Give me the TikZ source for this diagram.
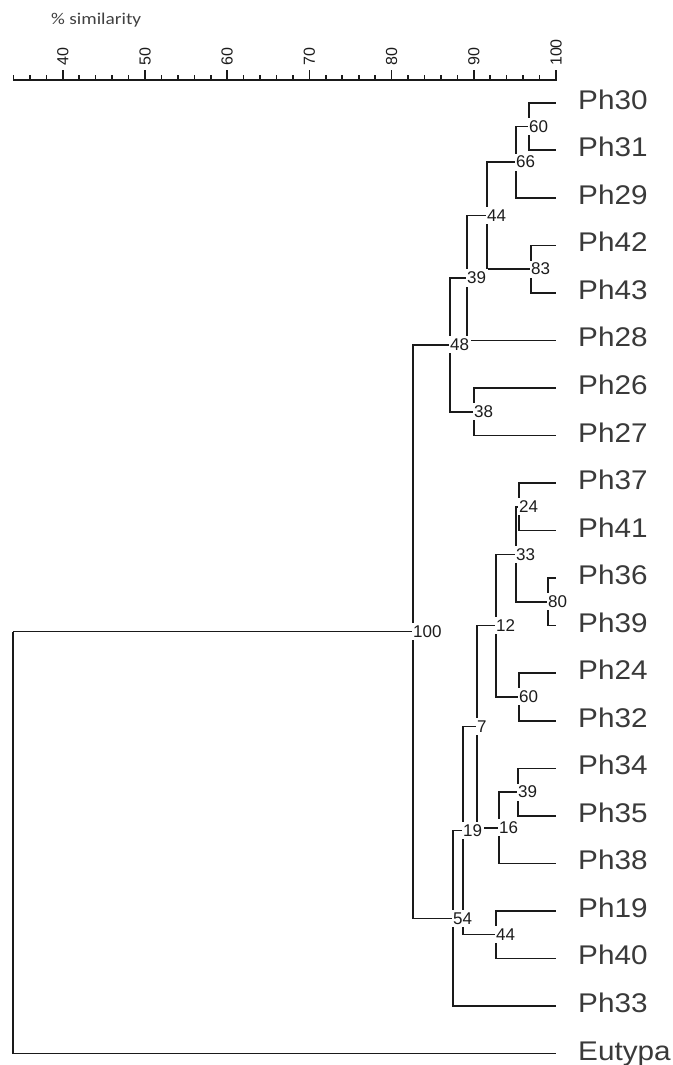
\documentclass[tikz,border=0pt]{standalone}
\usepackage{fontspec}
\usepackage{graphicx}
\setmainfont{Liberation Sans}
\newfontfamily\calib{Carlito}
\definecolor{linecol}{HTML}{1A1A1A}
\definecolor{numcol}{HTML}{1C1C1C}
\definecolor{labcol}{HTML}{3A3A3A}
\definecolor{simcol}{HTML}{404040}
\newcommand\leaftxt[1]{\scalebox{1.1}[1]{#1}}
\begin{document}
\begin{tikzpicture}[x=1pt,y=-1pt,
  branch/.style={draw=linecol, line width=1.6pt},
  boot/.style={anchor=west, fill=white, inner xsep=1.5pt, inner ysep=2.5pt, xshift=-1.5pt,
    font=\fontsize{17}{18}\selectfont, text=numcol},
  leaflab/.style={anchor=base west, inner sep=0pt, font=\fontsize{27}{30}\selectfont, text=labcol},
  ticklab/.style={anchor=west, rotate=90, inner sep=0pt, font=\fontsize{16}{17}\selectfont, text=numcol},
  axisline/.style={draw=linecol, line width=1.6pt},
]
\useasboundingbox (0,0) rectangle (672,1065);

% title and axis
\node[anchor=west, inner sep=0pt, text=simcol] (title) at (51,20)
  {\calib\fontsize{16.5}{18}\selectfont\scalebox{1.17}[1]{\% similarity}};
\coordinate (ax0) at (13.5,80);
\coordinate (ax1) at (556,80);
\draw[axisline] (ax0) -- (ax1);
\foreach \s in {34,36,...,100} {
  \pgfmathsetmacro\xx{556-(100-\s)*8.22}
  \pgfmathtruncatemacro\m{mod(\s,10)}
  \ifnum\m=0
    \draw[axisline] (\xx,80.7) -- (\xx,70);
    \node[ticklab] at (\xx,66) {\s};
  \else
    \draw[axisline] (\xx,80.7) -- (\xx,75);
  \fi
}

% leaf ends
\coordinate (Ph30) at (556,102.7);
\coordinate (Ph31) at (556,150.2);
\coordinate (Ph29) at (556,197.8);
\coordinate (Ph42) at (556,245.3);
\coordinate (Ph43) at (556,292.9);
\coordinate (Ph28) at (556,340.4);
\coordinate (Ph26) at (556,388.0);
\coordinate (Ph27) at (556,435.5);
\coordinate (Ph37) at (556,483.0);
\coordinate (Ph41) at (556,530.6);
\coordinate (Ph36) at (556,578.1);
\coordinate (Ph39) at (556,625.6);
\coordinate (Ph24) at (556,673.2);
\coordinate (Ph32) at (556,720.7);
\coordinate (Ph34) at (556,768.3);
\coordinate (Ph35) at (556,815.8);
\coordinate (Ph38) at (556,863.3);
\coordinate (Ph19) at (556,910.9);
\coordinate (Ph40) at (556,958.4);
\coordinate (Ph33) at (556,1006.0);
\coordinate (Eutypa) at (556,1053.5);

% internal nodes
\coordinate (n60a) at (529,126.45);
\coordinate (n66)  at (516,162.1);
\coordinate (n83)  at (531,269.1);
\coordinate (n44a) at (487,215.6);
\coordinate (n39a) at (467,278.0);
\coordinate (n38)  at (474,411.75);
\coordinate (n48)  at (450,344.9);
\coordinate (n24)  at (519,506.8);
\coordinate (n80)  at (548,601.85);
\coordinate (n33)  at (516,554.3);
\coordinate (n60b) at (519,696.95);
\coordinate (n12)  at (496,625.6);
\coordinate (n39b) at (518,792.05);
\coordinate (n16)  at (499,827.7);
\coordinate (n7)   at (477,726.65);
\coordinate (n44b) at (496,934.65);
\coordinate (n19)  at (463,830.65);
\coordinate (n54)  at (453,918.3);
\coordinate (n100) at (413,631.6);
\coordinate (root) at (13,631.6);

% branches
\draw[branch] (n60a) |- (Ph30);  \draw[branch] (n60a) |- (Ph31);
\draw[branch] (n66) |- (n60a);   \draw[branch] (n66) |- (Ph29);
\draw[branch] (n83) |- (Ph42);   \draw[branch] (n83) |- (Ph43);
\draw[branch] (n44a) |- (n66);   \draw[branch] (n44a) |- (n83);
\draw[branch] (n39a) |- (n44a);  \draw[branch] (n39a) |- (Ph28);
\draw[branch] (n38) |- (Ph26);   \draw[branch] (n38) |- (Ph27);
\draw[branch] (n48) |- (n39a);   \draw[branch] (n48) |- (n38);
\draw[branch] (n24) |- (Ph37);   \draw[branch] (n24) |- (Ph41);
\draw[branch] (n80) |- (Ph36);   \draw[branch] (n80) |- (Ph39);
\draw[branch] (n33) |- (n24);    \draw[branch] (n33) |- (n80);
\draw[branch] (n60b) |- (Ph24);  \draw[branch] (n60b) |- (Ph32);
\draw[branch] (n12) |- (n33);    \draw[branch] (n12) |- (n60b);
\draw[branch] (n39b) |- (Ph34);  \draw[branch] (n39b) |- (Ph35);
\draw[branch] (n16) |- (n39b);   \draw[branch] (n16) |- (Ph38);
\draw[branch] (n7) |- (n12);     \draw[branch] (n7) |- (n16);
\draw[branch] (n44b) |- (Ph19);  \draw[branch] (n44b) |- (Ph40);
\draw[branch] (n19) |- (n7);     \draw[branch] (n19) |- (n44b);
\draw[branch] (n54) |- (n19);    \draw[branch] (n54) |- (Ph33);
\draw[branch] (n100) |- (n48);   \draw[branch] (n100) |- (n54);
\draw[branch] (root) -- (n100);  \draw[branch] (root) |- (Eutypa);

% support values
\node[boot] (b60a) at (n60a) {60};
\node[boot] (b66)  at (n66)  {66};
\node[boot] (b83)  at (n83)  {83};
\node[boot] (b44a) at (n44a) {44};
\node[boot] (b39a) at (n39a) {39};
\node[boot] (b38)  at (n38)  {38};
\node[boot] (b48)  at (n48)  {48};
\node[boot] (b24)  at (n24)  {24};
\node[boot] (b80)  at (n80)  {80};
\node[boot] (b33)  at (n33)  {33};
\node[boot] (b60b) at (n60b) {60};
\node[boot] (b12)  at (n12)  {12};
\node[boot] (b39b) at (n39b) {39};
\node[boot] (b16)  at (n16)  {16};
\node[boot] (b7)   at (n7)   {7};
\node[boot] (b44b) at (n44b) {44};
\node[boot] (b19)  at (n19)  {19};
\node[boot] (b54)  at (n54)  {54};
\node[boot] (b100) at (n100) {100};

% leaf labels
\node[leaflab] (lPh30) at (578,109.2) {\leaftxt{Ph30}};
\node[leaflab] (lPh31) at (578,156.7) {\leaftxt{Ph31}};
\node[leaflab] (lPh29) at (578,204.3) {\leaftxt{Ph29}};
\node[leaflab] (lPh42) at (578,251.8) {\leaftxt{Ph42}};
\node[leaflab] (lPh43) at (578,299.4) {\leaftxt{Ph43}};
\node[leaflab] (lPh28) at (578,346.9) {\leaftxt{Ph28}};
\node[leaflab] (lPh26) at (578,394.5) {\leaftxt{Ph26}};
\node[leaflab] (lPh27) at (578,442.0) {\leaftxt{Ph27}};
\node[leaflab] (lPh37) at (578,489.5) {\leaftxt{Ph37}};
\node[leaflab] (lPh41) at (578,537.1) {\leaftxt{Ph41}};
\node[leaflab] (lPh36) at (578,584.6) {\leaftxt{Ph36}};
\node[leaflab] (lPh39) at (578,632.1) {\leaftxt{Ph39}};
\node[leaflab] (lPh24) at (578,679.7) {\leaftxt{Ph24}};
\node[leaflab] (lPh32) at (578,727.2) {\leaftxt{Ph32}};
\node[leaflab] (lPh34) at (578,774.8) {\leaftxt{Ph34}};
\node[leaflab] (lPh35) at (578,822.3) {\leaftxt{Ph35}};
\node[leaflab] (lPh38) at (578,869.8) {\leaftxt{Ph38}};
\node[leaflab] (lPh19) at (578,917.4) {\leaftxt{Ph19}};
\node[leaflab] (lPh40) at (578,964.9) {\leaftxt{Ph40}};
\node[leaflab] (lPh33) at (578,1012.5) {\leaftxt{Ph33}};
\node[leaflab] (lEut)  at (578,1060.0) {\leaftxt{Eutypa}};
\end{tikzpicture}
\end{document}
